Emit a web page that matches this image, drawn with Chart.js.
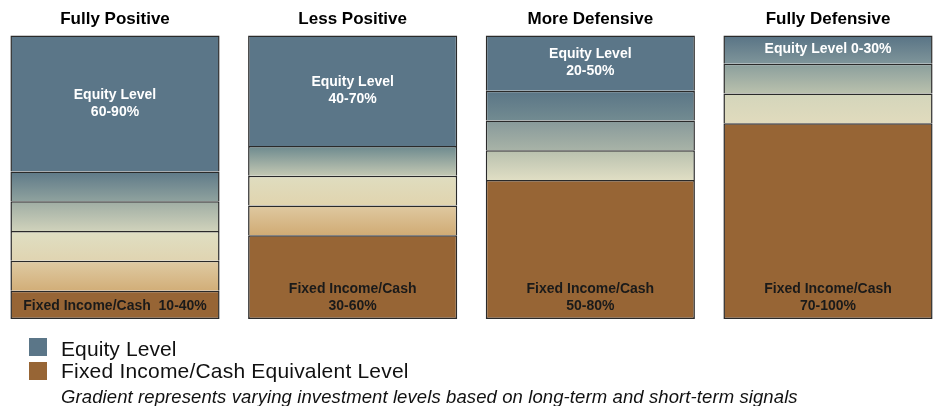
<!DOCTYPE html>
<html>
<head>
<meta charset="utf-8">
<script src="https://cdn.jsdelivr.net/npm/chart.js@4.4.1/dist/chart.umd.min.js"></script>
<style>
  html, body { margin: 0; padding: 0; background: #ffffff; }
  #wrap { position: relative; width: 936px; height: 406px; overflow: hidden; }
  canvas { position: absolute; left: 0; top: 0; }
  .sw { position: absolute; width: 18px; height: 18px; }
  .lg { position: absolute; font-family: "Liberation Sans", Arial, sans-serif; color: #111; white-space: nowrap; }
</style>
</head>
<body>
<div id="wrap">
  <canvas id="c" width="936" height="406"></canvas>
  <div class="sw" style="left:29px;top:338px;background:#5b7688;"></div>
  <div class="lg" id="lg1" style="left:61px;top:339px;font-size:21px;line-height:20px;letter-spacing:0.1px;"></div>
  <div class="sw" style="left:29px;top:362px;background:#976535;"></div>
  <div class="lg" id="lg2" style="left:61px;top:361px;font-size:21px;line-height:20px;letter-spacing:0.2px;"></div>
  <div class="lg" id="lg3" style="left:61px;top:388px;font-size:18.5px;line-height:17px;font-style:italic;letter-spacing:0.1px;"></div>
</div>
<script>
// ---- data ----
const categories = ["Fully Positive", "Less Positive", "More Defensive", "Fully Defensive"];
const fixedIncomeValues = [10, 29.5, 49, 69];
const gradientBand4 = [10.5, null, null, null];   // lowest gradient band (just above fixed income)
const gradientBand3 = [10.5, 10.5, 10.5, null];
const gradientBand2 = [10.5, 10.5, 10.5, 10.5];
const gradientBand1 = [10.5, 10.5, 10.5, 10.5];   // highest gradient band (just below equity)
const equityValues = [48, 39, 19.5, 10];
const equityLabels = [["Equity Level", "60-90%"], ["Equity Level", "40-70%"], ["Equity Level", "20-50%"], ["Equity Level 0-30%"]];
const fixedLabels = [["Fixed Income/Cash  10-40%"], ["Fixed Income/Cash", "30-60%"], ["Fixed Income/Cash", "50-80%"], ["Fixed Income/Cash", "70-100%"]];
const legendItems = ["Equity Level", "Fixed Income/Cash Equivalent Level"];
const noteText = "Gradient represents varying investment levels based on long-term and short-term signals";

document.getElementById('lg1').textContent = legendItems[0];
document.getElementById('lg2').textContent = legendItems[1];
document.getElementById('lg3').textContent = noteText;

// ---- styles ----
const EQUITY = '#5b7688';
const FIXED = '#976535';
const FONT = '"Liberation Sans", Arial, sans-serif';
// gradient colours [top, bottom] per dataset (by stack index) per bar
const gradStyles = {
  1: [['#dfcba4', '#d2ae78'], null, null, null],
  2: [['#dfdfc3', '#e0d4b1'], ['#dfc9a1', '#d0ab74'], ['#b8c0ae', '#e0dec4'], null],
  3: [['#9fada4', '#d0d2bb'], ['#dfddc0', '#e1d4ae'], ['#87999a', '#a8b3a7'], ['#d3d5bb', '#e1dbbd']],
  4: [['#5e7988', '#8fa29e'], ['#6c898e', '#c3c8b3'], ['#5a7586', '#728b91'], ['#8a9e9c', '#bac1ad']],
  5: [null, null, null, ['#587385', '#7f959a']]
};

const seriesList = [fixedIncomeValues, gradientBand4, gradientBand3, gradientBand2, gradientBand1, equityValues];

function makeBg(dsIndex, flat) {
  return function (ctx) {
    if (ctx.type !== 'data') return flat;
    const chart = ctx.chart;
    const styles = gradStyles[dsIndex];
    const j = ctx.dataIndex;
    if (!styles || !styles[j] || !chart.chartArea) return flat;
    const y = chart.scales.y;
    let base = 0;
    for (let k = 0; k < dsIndex; k++) base += (seriesList[k][j] || 0);
    const top = base + (seriesList[dsIndex][j] || 0);
    const g = chart.ctx.createLinearGradient(0, y.getPixelForValue(top), 0, y.getPixelForValue(base));
    g.addColorStop(0, styles[j][0]);
    g.addColorStop(1, styles[j][1]);
    return g;
  };
}

const names = ['Fixed Income/Cash', 'Gradient 4', 'Gradient 3', 'Gradient 2', 'Gradient 1', 'Equity Level'];
const flats = [FIXED, '#d8bd8e', '#dfd9bb', '#c0c4b0', '#8fa29e', EQUITY];
const datasets = seriesList.map((arr, i) => ({
  label: names[i],
  data: arr,
  backgroundColor: makeBg(i, flats[i]),
  borderColor: '#2a2a2a',
  borderWidth: 1.5,
  borderSkipped: i === 0 ? false : 'start',
  clip: false
}));

const labelPlugin = {
  id: 'segLabels',
  afterDatasetsDraw(chart) {
    const c = chart.ctx;
    c.save();
    c.textAlign = 'center';
    c.textBaseline = 'middle';
    c.font = 'bold 14px ' + FONT;
    const eq = chart.getDatasetMeta(5).data;
    eq.forEach((el, j) => {
      const p = el.getProps(['x', 'y', 'base'], true);
      const lines = equityLabels[j];
      const mid = (p.y + p.base) / 2;
      const lh = 17;
      c.fillStyle = '#ffffff';
      lines.forEach((t, k) => {
        c.fillText(t, p.x, mid + (k - (lines.length - 1) / 2) * lh);
      });
    });
    const fx = chart.getDatasetMeta(0).data;
    fx.forEach((el, j) => {
      const p = el.getProps(['x', 'y', 'base'], true);
      const lines = fixedLabels[j];
      const lh = 17;
      c.fillStyle = '#1a1a1a';
      lines.forEach((t, k) => {
        c.fillText(t, p.x, p.base - 12.5 - (lines.length - 1 - k) * lh);
      });
    });
    c.restore();
  }
};

new Chart(document.getElementById('c'), {
  type: 'bar',
  data: { labels: categories, datasets: datasets },
  options: {
    responsive: false,
    animation: false,
    devicePixelRatio: 1,
    categoryPercentage: 0.88,
    barPercentage: 1,
    layout: { padding: { left: 115, right: 108, top: 3, bottom: 87 } },
    plugins: { legend: { display: false }, tooltip: { enabled: false } },
    scales: {
      x: {
        type: 'category',
        position: 'top',
        stacked: true,
        offset: false,
        grid: { display: false, drawTicks: false },
        border: { display: false },
        ticks: { color: '#000', padding: 6, maxRotation: 0, autoSkip: false, font: { family: FONT, size: 17, weight: 'bold' } }
      },
      y: { display: false, stacked: true, min: 0, max: 100 }
    }
  },
  plugins: [labelPlugin]
});
</script>
</body>
</html>
